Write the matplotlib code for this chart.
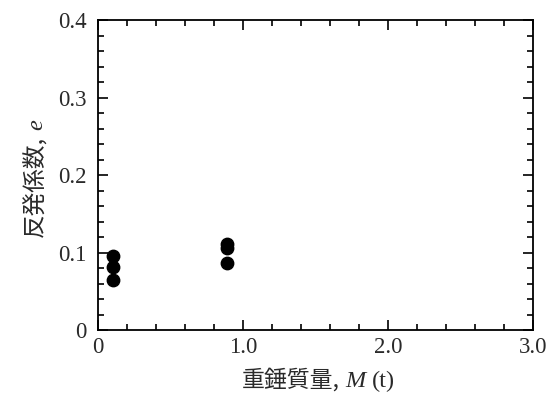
import matplotlib
matplotlib.use('Agg')
import matplotlib.pyplot as plt
from matplotlib.ticker import MultipleLocator, FixedFormatter, FixedLocator
from matplotlib.transforms import IdentityTransform

plt.rcParams['font.family'] = ['Liberation Serif', 'Noto Sans CJK JP']

# hammer mass (t) and coefficient of restitution
mass = [0.1, 0.1, 0.1, 0.89, 0.89, 0.89]
e_val = [0.096, 0.081, 0.064, 0.111, 0.106, 0.087]

xticks = [0, 1.0, 2.0, 3.0]
xlabels = ['0', '1.0', '2.0', '3.0']
yticks = [0, 0.1, 0.2, 0.3, 0.4]
ylabels = ['0', '0.1', '0.2', '0.3', '0.4']

txt = '#2a2a2a'
cjk = dict(family=['Noto Sans CJK JP'], color=txt)
ser = dict(family=['Liberation Serif'], color=txt)
ita = dict(family=['Liberation Serif'], style='italic', color=txt)

fig = plt.figure(figsize=(5.55, 3.94), dpi=100)
ax = fig.add_axes([0.1766, 0.1624, 0.7838, 0.7868])

ax.scatter(mass, e_val, s=80, color='black', zorder=3, clip_on=False)

ax.set_xlim(0, 3.0)
ax.set_ylim(0, 0.4)
ax.xaxis.set_major_locator(FixedLocator(xticks))
ax.xaxis.set_major_formatter(FixedFormatter(xlabels))
ax.yaxis.set_major_locator(FixedLocator(yticks))
ax.yaxis.set_major_formatter(FixedFormatter(ylabels))
ax.xaxis.set_minor_locator(MultipleLocator(0.2))
ax.yaxis.set_minor_locator(MultipleLocator(0.02))

ax.tick_params(which='both', direction='in', top=True, right=True, width=1.2, colors='black',
               labelcolor=txt, labelsize=16.5)
ax.tick_params(which='major', length=7)
ax.tick_params(which='minor', length=4)
ax.tick_params(axis='x', which='major', pad=5)
ax.tick_params(axis='y', which='major', pad=8)
for s in ax.spines.values():
    s.set_linewidth(1.3)

# axis labels built from pieces (CJK font + serif italic symbol)
r = fig.canvas.get_renderer()


def chain(pieces, cx, cy, rot, gap=2):
    texts = [fig.text(0, 0, s, transform=IdentityTransform(), rotation=rot,
                      rotation_mode='anchor', ha='left', va='baseline', size=sz, **kw)
             for s, sz, kw in pieces]
    lens = []
    for t in texts:
        bb = t.get_window_extent(r)
        lens.append(bb.width if rot == 0 else bb.height)
    total = sum(lens) + gap * (len(lens) - 1)
    pos = (cx if rot == 0 else cy) - total / 2
    for t, L in zip(texts, lens):
        if rot == 0:
            t.set_position((pos, cy))
        else:
            t.set_position((cx, pos))
        pos += L + gap


chain([('重錘質量,', 16.5, cjk), ('M', 17.5, ita), ('(t)', 17.5, ser)], 318, 7, 0, gap=6)
chain([('反発係数,', 17, cjk), ('e', 17.5, ita)], 42, 216, 90, gap=6)

fig.savefig('out.png', dpi=100)
